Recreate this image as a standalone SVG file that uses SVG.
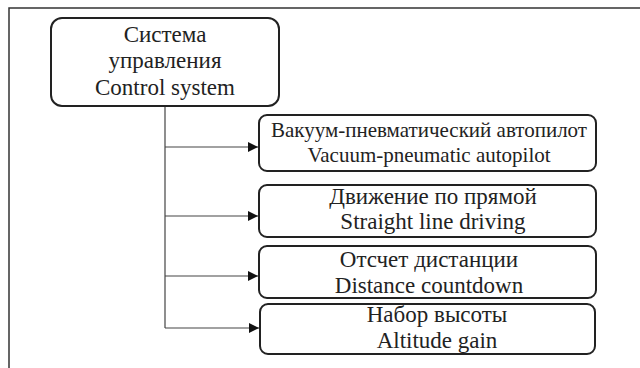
<svg xmlns="http://www.w3.org/2000/svg" width="640" height="368" viewBox="0 0 640 368">
  <style>
    .frame { stroke: #333; stroke-width: 1.5; fill: none; }
    .box { fill: #fff; stroke: #222; stroke-width: 2; }
    .link { stroke: #444; stroke-width: 1.2; fill: none; }
    .lbl { fill: #222; text-anchor: middle; }
  </style>
  <defs>
    <marker id="arrow" viewBox="0 0 10 10" refX="10" refY="5" markerWidth="10" markerHeight="10" markerUnits="userSpaceOnUse" orient="auto">
      <path d="M0,0 L10,5 L0,10 Z" fill="#111"/>
    </marker>
  </defs>

  <rect width="640" height="368" fill="#fff"/>
  <!-- page frame: top and left edges only -->
  <path class="frame" d="M9,368 V8 H640"/>

  <g id="connectors">
    <path class="link" d="M165,106 V328"/>
    <path class="link" d="M165,147 H258" marker-end="url(#arrow)"/>
    <path class="link" d="M165,216 H258" marker-end="url(#arrow)"/>
    <path class="link" d="M165,276 H258" marker-end="url(#arrow)"/>
    <path class="link" d="M165,328 H259" marker-end="url(#arrow)"/>
  </g>

  <g id="control-system">
    <rect class="box" x="51" y="18" width="228" height="88" rx="11"/>
    <text class="lbl" x="165" y="42" font-family="Liberation Serif" font-size="23">Система</text>
    <text class="lbl" x="165" y="68" font-family="Liberation Serif" font-size="23">управления</text>
    <text class="lbl" x="165" y="95" font-family="Liberation Serif" font-size="23">Control system</text>
  </g>

  <g id="autopilot">
    <rect class="box" x="259" y="115" width="337" height="56" rx="8"/>
    <text class="lbl" x="429" y="137" font-family="Liberation Serif" font-size="21">Вакуум-пневматический автопилот</text>
    <text class="lbl" x="429" y="162" font-family="Liberation Serif" font-size="21">Vacuum-pneumatic autopilot</text>
  </g>

  <g id="straight-line">
    <rect class="box" x="259" y="185" width="337" height="52" rx="8"/>
    <text class="lbl" x="433" y="204" font-family="Liberation Serif" font-size="23">Движение по прямой</text>
    <text class="lbl" x="433" y="229" font-family="Liberation Serif" font-size="23">Straight line driving</text>
  </g>

  <g id="distance">
    <rect class="box" x="259" y="246" width="337" height="52" rx="8"/>
    <text class="lbl" x="429" y="267" font-family="Liberation Serif" font-size="23">Отсчет дистанции</text>
    <text class="lbl" x="429" y="293" font-family="Liberation Serif" font-size="23">Distance countdown</text>
  </g>

  <g id="altitude">
    <rect class="box" x="260" y="304" width="335" height="50" rx="8"/>
    <text class="lbl" x="437" y="322" font-family="Liberation Serif" font-size="23">Набор высоты</text>
    <text class="lbl" x="437" y="348" font-family="Liberation Serif" font-size="23">Altitude gain</text>
  </g>
</svg>
